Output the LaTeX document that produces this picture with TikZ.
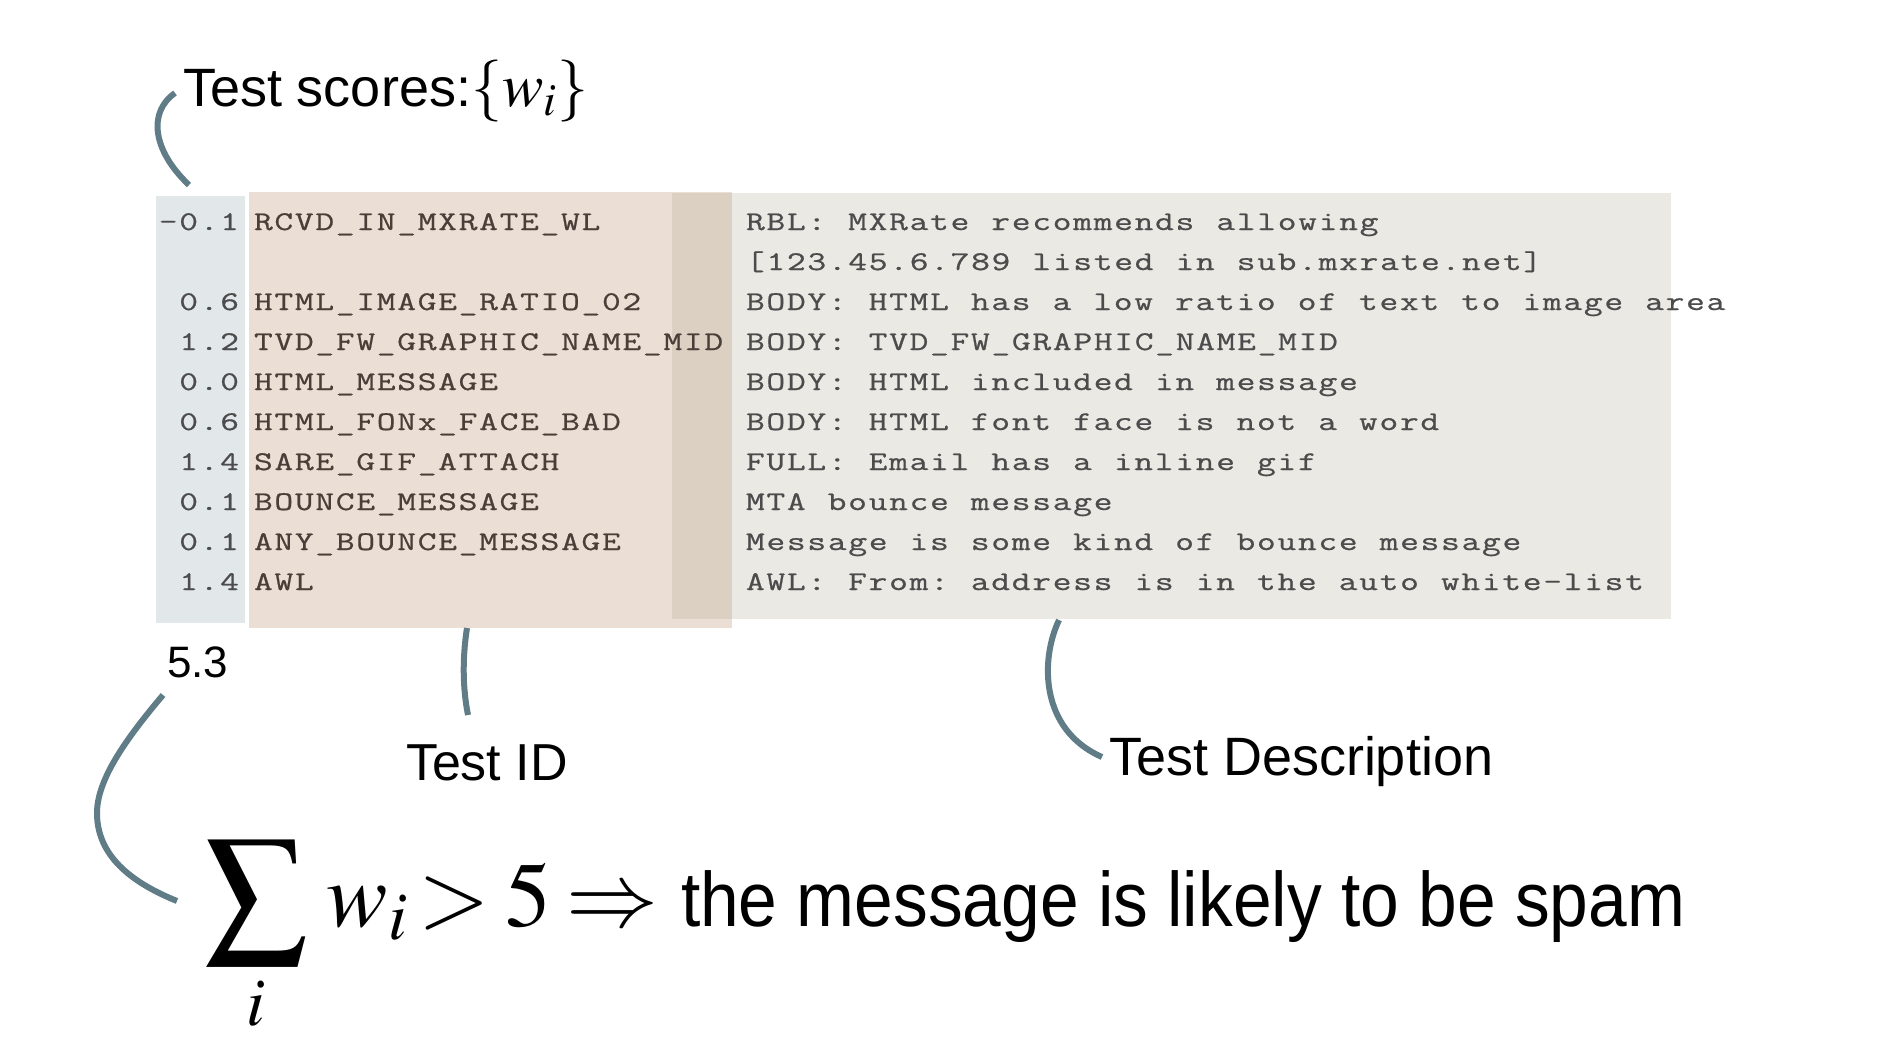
\documentclass[tikz,border=0pt]{standalone}
\usepackage{graphicx}
\usepackage{mathptmx}
\usepackage[no-math]{fontspec}
\setmainfont{Liberation Sans}
\newfontfamily\monof[FakeStretch=1.35,LetterSpace=6.3,WordSpace=1.075,FakeBold=0.7]{Latin Modern Mono}
\newfontfamily\bigf[FakeStretch=0.9]{Liberation Sans}
\definecolor{colblue}{HTML}{E2E7EA}
\definecolor{colpink}{HTML}{EBDED5}
\definecolor{colgray}{HTML}{EAE9E4}
\definecolor{coloverlap}{HTML}{DCD0C3}
\definecolor{conncol}{HTML}{5F7C87}
\definecolor{scoretext}{HTML}{4C4C4C}
\definecolor{idtext}{HTML}{4A3F38}
\definecolor{desctext}{HTML}{4C4C4C}
\begin{document}
\begin{tikzpicture}[x=0.5pt,y=-0.5pt,
  txt/.style={inner sep=0pt,outer sep=0pt},
  monofont/.style={font=\monof\frenchspacing\fontsize{13.5}{16}\selectfont},
  score/.style={txt,monofont,anchor=base east,text=scoretext},
  tid/.style={txt,monofont,anchor=base west,text=idtext},
  tdesc/.style={txt,monofont,anchor=base west,text=desctext},
  lbl/.style={txt,anchor=base west,font=\fontsize{27}{30}\selectfont},
  conn/.style={draw=conncol,line width=3pt}]
\useasboundingbox (0,0) rectangle (1898,1038);
% column backgrounds
\fill[colblue] (156,196) rectangle (245,623);
\fill[colpink] (249,192) rectangle (732,628);
\fill[colgray] (672,193) rectangle (1671,619);
\fill[coloverlap] (672,193) rectangle (732,619);
% scores
\node[score] (s0) at (239,230) {-0.1};
\node[score] (s2) at (239,310) {0.6};
\node[score] (s3) at (239,350) {1.2};
\node[score] (s4) at (239,390) {0.0};
\node[score] (s5) at (239,430) {0.6};
\node[score] (s6) at (239,470) {1.4};
\node[score] (s7) at (239,510) {0.1};
\node[score] (s8) at (239,550) {0.1};
\node[score] (s9) at (239,590) {1.4};
% test ids
\node[tid] (i0) at (254,230) {RCVD\_IN\_MXRATE\_WL};
\node[tid] (i2) at (254,310) {HTML\_IMAGE\_RATIO\_02};
\node[tid] (i3) at (254,350) {TVD\_FW\_GRAPHIC\_NAME\_MID};
\node[tid] (i4) at (254,390) {HTML\_MESSAGE};
\node[tid] (i5) at (254,430) {HTML\_FONx\_FACE\_BAD};
\node[tid] (i6) at (254,470) {SARE\_GIF\_ATTACH};
\node[tid] (i7) at (254,510) {BOUNCE\_MESSAGE};
\node[tid] (i8) at (254,550) {ANY\_BOUNCE\_MESSAGE};
\node[tid] (i9) at (254,590) {AWL};
% descriptions
\node[tdesc] (d0) at (746,230) {RBL: MXRate recommends allowing};
\node[tdesc] (d1) at (746,270) {[123.45.6.789 listed in sub.mxrate.net]};
\node[tdesc] (d2) at (746,310) {BODY: HTML has a low ratio of text to image area};
\node[tdesc] (d3) at (746,350) {BODY: TVD\_FW\_GRAPHIC\_NAME\_MID};
\node[tdesc] (d4) at (746,390) {BODY: HTML included in message};
\node[tdesc] (d5) at (746,430) {BODY: HTML font face is not a word};
\node[tdesc] (d6) at (746,470) {FULL: Email has a inline gif};
\node[tdesc] (d7) at (746,510) {MTA bounce message};
\node[tdesc] (d8) at (746,550) {Message is some kind of bounce message};
\node[tdesc] (d9) at (746,590) {AWL: From: address is in the auto white{-}list};
% labels
\node[lbl] (scoreslbl) at (183,106) {Test scores:{\fontsize{31}{31}\selectfont$\{w_i\}$}};
\node[lbl,font=\fontsize{22}{24}\selectfont] (sumlbl) at (167,677) {5.3};
\node[lbl,font=\fontsize{26}{30}\selectfont] (idlbl) at (406,780) {Test ID};
\node[lbl] (desclbl) at (1109,775) {Test Description};
% formula
\node[txt,anchor=base west,font=\fontsize{46}{50}\selectfont] (formula) at (204,926)
  {$\displaystyle\mathop{\vcenter{\hbox{\scalebox{1.1}{$\displaystyle\sum$}}}}\limits_i \mkern1.7mu w_i \mkern-2mu > \mkern-1mu 5 \mkern-1mu \Rightarrow$};
\node[txt,anchor=base west,font=\bigf\fontsize{38.6}{44}\selectfont] (spam) at (681,926) {the message is likely to be spam};
% connector ends
\coordinate (c1a) at (175,93);
\coordinate (c1b) at (189,185);
\coordinate (c2a) at (163,695);
\coordinate (c2m) at (97,813);
\coordinate (c2b) at (177,901);
\coordinate (c3a) at (467,628);
\coordinate (c3b) at (468,715);
\coordinate (c4a) at (1059,620);
\coordinate (c4b) at (1102,757);
% connectors
\draw[conn] (c1a) .. controls (148,112) and (152,150) .. (c1b);
\draw[conn] (c2a) .. controls (125,740) and (97,780) .. (c2m) .. controls (97,855) and (130,882) .. (c2b);
\draw[conn] (c3a) .. controls (462,660) and (463,690) .. (c3b);
\draw[conn] (c4a) .. controls (1040,660) and (1040,730) .. (c4b);
\end{tikzpicture}
\end{document}
